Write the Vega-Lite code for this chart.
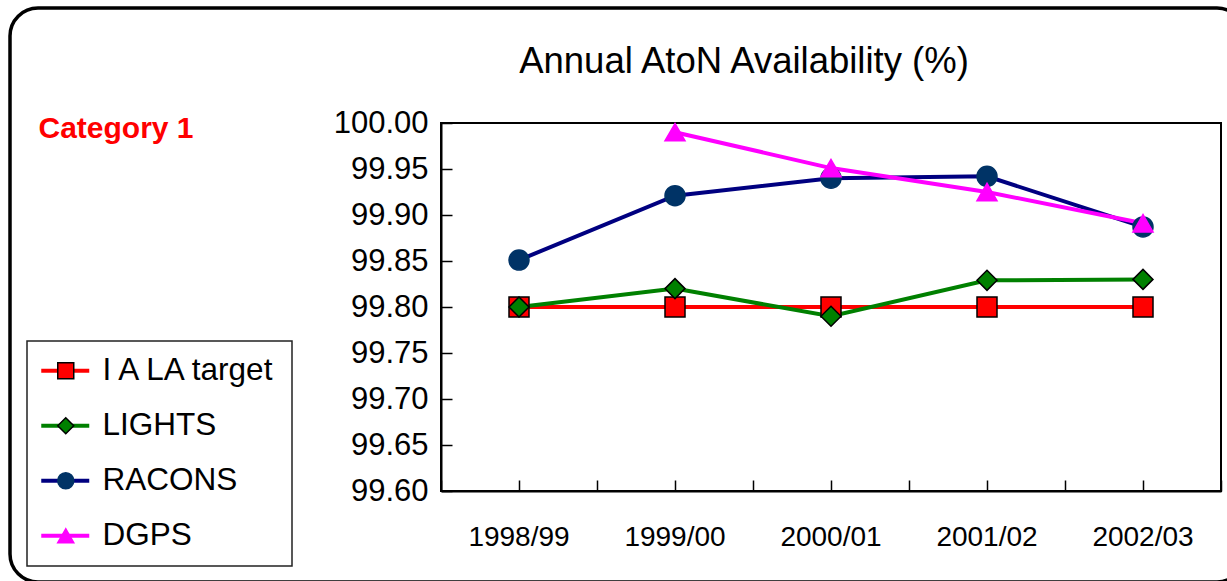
{
  "$schema": "https://vega.github.io/schema/vega-lite/v6.json",
  "width": 780,
  "height": 368,
  "autosize": {"type": "none"},
  "padding": {"left": 441, "top": 123, "right": 6, "bottom": 90},
  "background": "white",
  "title": {
    "text": "Annual AtoN Availability (%)",
    "frame": "group",
    "anchor": "middle",
    "dx": -87,
    "dy": 103,
    "offset": 0,
    "baseline": "alphabetic",
    "font": "Liberation Sans",
    "fontSize": 36.5,
    "fontWeight": "normal",
    "color": "black"
  },
  "data": {
    "values": [
      {"year": "1998/99", "series": "I A LA target", "value": 99.80},
      {"year": "1999/00", "series": "I A LA target", "value": 99.80},
      {"year": "2000/01", "series": "I A LA target", "value": 99.80},
      {"year": "2001/02", "series": "I A LA target", "value": 99.80},
      {"year": "2002/03", "series": "I A LA target", "value": 99.80},
      {"year": "1998/99", "series": "LIGHTS", "value": 99.80},
      {"year": "1999/00", "series": "LIGHTS", "value": 99.82},
      {"year": "2000/01", "series": "LIGHTS", "value": 99.79},
      {"year": "2001/02", "series": "LIGHTS", "value": 99.829},
      {"year": "2002/03", "series": "LIGHTS", "value": 99.83},
      {"year": "1998/99", "series": "RACONS", "value": 99.851},
      {"year": "1999/00", "series": "RACONS", "value": 99.921},
      {"year": "2000/01", "series": "RACONS", "value": 99.940},
      {"year": "2001/02", "series": "RACONS", "value": 99.942},
      {"year": "2002/03", "series": "RACONS", "value": 99.887},
      {"year": "1999/00", "series": "DGPS", "value": 99.990},
      {"year": "2000/01", "series": "DGPS", "value": 99.951},
      {"year": "2001/02", "series": "DGPS", "value": 99.925},
      {"year": "2002/03", "series": "DGPS", "value": 99.891}
    ]
  },
  "encoding": {
    "y": {
      "field": "value",
      "type": "quantitative",
      "scale": {"domain": [99.6, 100], "nice": false, "zero": false},
      "axis": {
        "values": [99.6, 99.65, 99.7, 99.75, 99.8, 99.85, 99.9, 99.95, 100],
        "format": ".2f",
        "labelFont": "Liberation Sans",
        "labelFontSize": 31,
        "labelColor": "black",
        "labelPadding": 24,
        "labelFlush": false,
        "labelOverlap": false,
        "tickSize": -11,
        "tickColor": "black",
        "tickWidth": 1.5,
        "domainColor": "black",
        "domainWidth": 2,
        "grid": false,
        "title": "Category 1",
        "titleAngle": 0,
        "titleX": -403,
        "titleY": 14,
        "titleAlign": "left",
        "titleBaseline": "alphabetic",
        "titleColor": "#FF0000",
        "titleFont": "Liberation Sans",
        "titleFontSize": 30,
        "titleFontWeight": "bold"
      }
    }
  },
  "layer": [
    {
      "mark": {"type": "line", "strokeWidth": 4},
      "encoding": {
        "x": {
          "field": "year",
          "type": "nominal",
          "scale": {"type": "band", "paddingInner": 0, "paddingOuter": 0},
          "axis": {
            "orient": "bottom",
            "title": null,
            "labelAngle": 0,
            "labelFont": "Liberation Sans",
            "labelFontSize": 28,
            "labelColor": "black",
            "labelPadding": 43,
            "tickSize": -11,
            "tickColor": "black",
            "tickWidth": 1.5,
            "domainColor": "black",
            "domainWidth": 2,
            "grid": false
          }
        },
        "color": {
          "field": "series",
          "type": "nominal",
          "scale": {
            "domain": ["I A LA target", "LIGHTS", "RACONS", "DGPS"],
            "range": ["#FF0000", "#008000", "#000080", "#FF00FF"]
          },
          "legend": {
            "orient": "none",
            "legendX": -414,
            "legendY": 218,
            "title": null,
            "symbolType": "M-1.55,0H3.25",
            "symbolSize": 400,
            "symbolStrokeWidth": 4,
            "labelFont": "Liberation Sans",
            "labelFontSize": 31.5,
            "labelColor": "black",
            "labelOffset": 30,
            "labelLimit": 400,
            "rowPadding": 22,
            "padding": 14,
            "strokeColor": "#222222",
            "zindex": 1
          }
        }
      }
    },
    {
      "mark": {"type": "point", "filled": true, "size": 400, "strokeWidth": 1.5, "opacity": 1},
      "encoding": {
        "x": {
          "field": "year",
          "type": "nominal",
          "axis": {
            "orient": "bottom",
            "title": null,
            "labels": false,
            "tickBand": "extent",
            "tickSize": -11,
            "tickColor": "black",
            "tickWidth": 1.5,
            "domain": false,
            "grid": false
          }
        },
        "shape": {
          "field": "series",
          "type": "nominal",
          "sort": null,
          "scale": {"range": ["square", "diamond", "circle", "triangle-up"]},
          "legend": {
            "orient": "none",
            "legendX": -405,
            "legendY": 218,
            "title": null,
            "symbolSize": 256,
            "symbolStrokeWidth": 1.5,
            "labelFont": "Liberation Sans",
            "labelFontSize": 31.5,
            "labelExpr": "''",
            "labelOffset": 12,
            "labelLimit": 400,
            "rowPadding": 22,
            "padding": 14,
            "zindex": 2
          }
        },
        "fill": {
          "field": "series",
          "type": "nominal",
          "sort": null,
          "scale": {"range": ["#FF0000", "#008000", "#003366", "#FF00FF"]},
          "legend": {
            "orient": "none",
            "legendX": -405,
            "legendY": 218,
            "title": null,
            "symbolSize": 256,
            "symbolStrokeWidth": 1.5,
            "labelFont": "Liberation Sans",
            "labelFontSize": 31.5,
            "labelExpr": "''",
            "labelOffset": 12,
            "labelLimit": 400,
            "rowPadding": 22,
            "padding": 14,
            "zindex": 2
          }
        },
        "stroke": {
          "field": "series",
          "type": "nominal",
          "sort": null,
          "scale": {"range": ["#000000", "#000000", "#003366", "#FF00FF"]},
          "legend": {
            "orient": "none",
            "legendX": -405,
            "legendY": 218,
            "title": null,
            "symbolSize": 256,
            "symbolStrokeWidth": 1.5,
            "labelFont": "Liberation Sans",
            "labelFontSize": 31.5,
            "labelExpr": "''",
            "labelOffset": 12,
            "labelLimit": 400,
            "rowPadding": 22,
            "padding": 14,
            "zindex": 2
          }
        }
      }
    },
    {
      "mark": {"type": "point", "opacity": 0},
      "encoding": {
        "x": {"field": "year", "type": "nominal", "axis": null},
        "color": {
          "field": "value",
          "type": "quantitative",
          "legend": {
            "type": "gradient",
            "orient": "none",
            "legendX": -431,
            "legendY": -115,
            "direction": "horizontal",
            "gradientLength": 1235,
            "gradientThickness": 573,
            "gradientOpacity": 0,
            "gradientStrokeWidth": 0,
            "labelExpr": "''",
            "labelFontSize": 1,
            "labelOffset": 0,
            "title": null,
            "padding": 0,
            "strokeColor": "black",
            "cornerRadius": 28,
            "zindex": 0,
            "encode": {"legend": {"update": {"strokeWidth": {"value": 3.5}}}}
          }
        }
      }
    }
  ],
  "resolve": {"scale": {"color": "independent"}, "axis": {"x": "independent"}},
  "config": {
    "font": "Liberation Sans",
    "view": {"stroke": "black", "strokeWidth": 2},
    "legend": {"gradientHorizontalMaxLength": 5000, "gradientHorizontalMinLength": 0, "strokeWidth": 1.5}
  }
}
